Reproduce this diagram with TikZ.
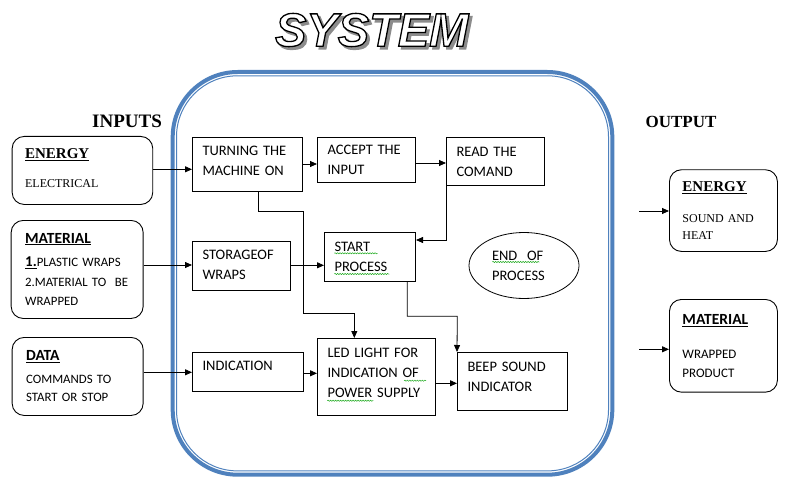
\documentclass[tikz,border=0pt]{standalone}
\usepackage{fontspec}
\setmainfont{Carlito}[WordSpace=0.6]
\newfontfamily\serifF{Liberation Serif}
\newfontfamily\titleF{Liberation Sans}
\usetikzlibrary{arrows.meta,shapes.geometric,decorations.pathmorphing}
\definecolor{sysblue}{RGB}{79,129,189}
\definecolor{spellgreen}{RGB}{30,170,30}
\newcommand\pushup[1]{\rule[-#1]{0pt}{#1}}
\newcommand\outlinetext[2]{\special{pdf:literal direct 2 Tr 1.3 w #1}#2\special{pdf:literal direct 0 Tr}}
\begin{document}
\begin{tikzpicture}[x=1pt,y=-1pt,
  bx/.style={draw, line width=1pt, anchor=north west, align=left, inner xsep=10pt, inner ysep=0pt, font=\fontsize{14.5}{20}\selectfont},
  iobox/.style={draw, line width=0.9pt, rounded corners=12pt, anchor=north west, align=left, inner ysep=0pt},
  arr/.style={line width=0.8pt, -{Triangle[length=7pt,width=6pt]}},
  wav/.style={spellgreen, line width=0.5pt, decorate, decoration={snake, amplitude=0.6pt, segment length=2.5pt}},
  titlefont/.style={font=\titleF\bfseries\itshape\fontsize{47}{50}\selectfont, inner sep=0pt},
  headfont/.style={font=\serifF\bfseries\fontsize{#1}{20}\selectfont, inner sep=0pt},
]
\useasboundingbox (0,0) rectangle (794,497);

% title: grey shadow, then white letters outlined in black
\node[titlefont, text=black!45] (tshadow) at (374.5,32.8) {\outlinetext{0.55 G}{SYSTEM}};
\node[titlefont, text=white] (title) at (371.7,30) {\outlinetext{0 G}{SYSTEM}};

% system frame
\draw[sysblue, line width=4pt, rounded corners=65pt] (172.7,72) rectangle (612.3,474.7);
\draw[sysblue, line width=1pt, rounded corners=61pt] (176.5,75.8) rectangle (608.5,470.9);

% headings
\node[headfont=19] (inputs) at (127,121) {INPUTS};
\node[headfont=17] (output) at (681,122) {OUTPUT};

% input boxes
\node[iobox, minimum width=140.6pt, minimum height=68pt, text width=114.6pt, inner xsep=13pt,
  font=\serifF\fontsize{12}{14}\selectfont] (ein) at (11.7,136)
  {{\fontsize{15}{18}\selectfont\bfseries\underline{ENERGY}}\\[15pt]ELECTRICAL\pushup{5pt}};
\node[iobox, minimum width=132pt, minimum height=98pt, text width=104pt, inner xsep=14pt,
  font=\fontsize{12.8}{19}\selectfont] (min) at (10.7,220)
  {{\fontsize{15.5}{18}\selectfont\bfseries\underline{MATERIAL}}\\[4pt]{\fontsize{15}{18}\selectfont\bfseries\underline{1.}}PLASTIC WRAPS\\[1.5pt]2.MATERIAL TO\ \ BE\\WRAPPED};
\node[iobox, minimum width=131pt, minimum height=78pt, text width=103pt, inner xsep=14pt,
  font=\fontsize{12.8}{18.5}\selectfont] (din) at (11.7,337)
  {{\fontsize{15.5}{18}\selectfont\bfseries\underline{DATA}}\\[4pt]COMMANDS TO\\START OR STOP};

% output boxes
\node[iobox, minimum width=108pt, minimum height=81.7pt, text width=82pt, inner xsep=13pt,
  font=\serifF\fontsize{12}{17.5}\selectfont] (eout) at (669,169.3)
  {{\fontsize{15}{18}\selectfont\bfseries\underline{ENERGY}}\\[13.5pt]SOUND\ AND\\HEAT};
\node[iobox, minimum width=108pt, minimum height=92.7pt, text width=82pt, inner xsep=13pt,
  font=\fontsize{13}{18.7}\selectfont] (mout) at (669,299)
  {{\fontsize{15.5}{18}\selectfont\bfseries\underline{MATERIAL}}\\[15.3pt]WRAPPED\\PRODUCT};

% system boxes
\node[bx, minimum width=110pt, minimum height=54pt, text width=90pt] (turn) at (192,137) {TURNING THE\\MACHINE ON\pushup{6.6pt}};
\node[bx, minimum width=98pt, minimum height=45pt, text width=78pt] (acc) at (317,137) {ACCEPT THE\\INPUT};
\node[bx, minimum width=98pt, minimum height=48pt, text width=78pt] (read) at (446,137) {READ THE\\COMAND};
\node[bx, minimum width=98pt, minimum height=49pt, text width=78pt] (stor) at (192,241) {STORAGEOF\\WRAPS\pushup{2.4pt}};
\node[bx, minimum width=91pt, minimum height=49pt, text width=71pt] (start) at (324,232) {START\\PROCESS};
\node[bx, minimum width=111pt, minimum height=39pt, text width=91pt] (ind) at (192,352) {INDICATION\pushup{11.6pt}};
\node[bx, minimum width=118pt, minimum height=77pt, text width=98pt] (led) at (317,338) {LED LIGHT FOR\\INDICATION OF\\POWER SUPPLY\pushup{7.6pt}};
\node[bx, minimum width=110pt, minimum height=58pt, text width=90pt] (beep) at (457,352) {BEEP SOUND\\INDICATOR\pushup{9.4pt}};
\node[draw, line width=0.8pt, ellipse, minimum width=110pt, minimum height=66pt, inner sep=0pt, align=left, text width=64pt,
  font=\fontsize{14.5}{20}\selectfont] (endp) at (524,265.5) {END\ \ OF\\PROCESS};

% spell-check underlines
\draw[wav] (334.3,253.3) -- (377.7,253.3);
\draw[wav] (334.3,274) -- (389.3,274);
\draw[wav] (492.3,262) -- (539.3,262);
\draw[wav] (404,380.7) -- (426,380.7);
\draw[wav] (327.3,400.7) -- (373.3,400.7);

% input arrows
\draw[arr] (ein.east |- 0,169.3) -- (turn.west |- 0,169.3);
\draw[arr] (min.east |- 0,265) -- (stor.west |- 0,265);
\draw[arr] (din.east |- 0,372.3) -- (ind.west |- 0,372.3);

% internal arrows
\draw[arr] (turn.east |- 0,164) -- (acc.west |- 0,164);
\draw[arr] (acc.east |- 0,163) -- (read.west |- 0,163);
\draw[arr] (read.south west) -- (read.south west |- 0,240) -- (start.east |- 0,240);
\draw[arr] ([xshift=66.3pt]turn.south west) |- (303.3,211) |- (354.3,313.3) -- (led.north -| 354.3,0);
\draw[arr] ([xshift=83.3pt]start.south west) |- (457.3,316.3) -- (beep.north west);
\draw[arr] (stor.east |- 0,265.3) -- (start.west |- 0,265.3);
\draw[arr] (ind.east |- 0,373.3) -- (led.west |- 0,373.3);
\draw[arr] (led.east |- 0,383.3) -- (beep.west |- 0,383.3);

% output arrows
\coordinate (o1) at (639,211);
\coordinate (o2) at (639,349.3);
\draw[arr] (o1) -- (eout.west |- o1);
\draw[arr] (o2) -- (mout.west |- o2);
\end{tikzpicture}
\end{document}
